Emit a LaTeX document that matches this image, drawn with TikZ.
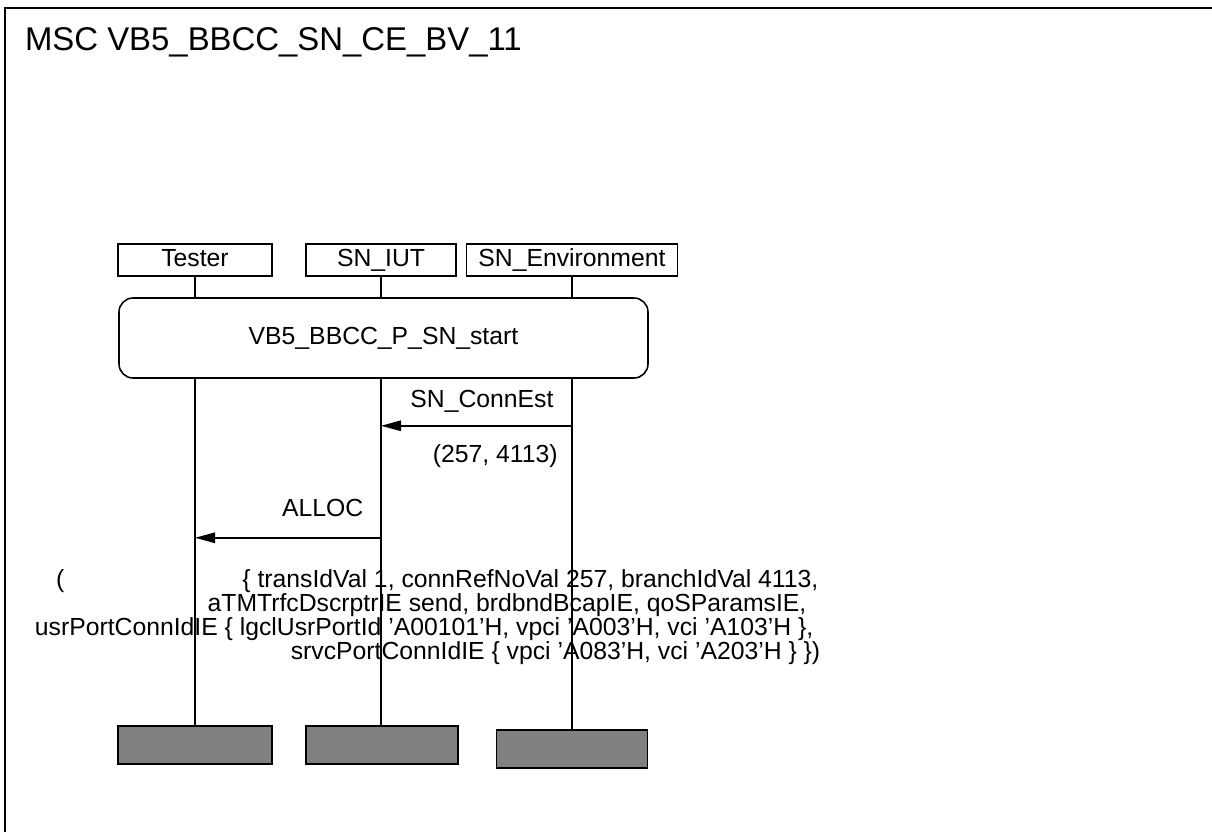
\documentclass[tikz,border=0pt]{standalone}
\usepackage{fontspec}
\setmainfont{Liberation Sans}
\usepackage{tikz}
\usetikzlibrary{arrows.meta,positioning,calc}
\tikzset{
  inst/.style={draw,line width=1.1pt,minimum height=8mm,inner sep=1pt,text height=0.95em,text depth=0pt,font=\fontsize{17.6}{17}\selectfont},
  iend/.style={draw,line width=1.1pt,fill=black!50,minimum height=9.5mm},
  refbox/.style={draw,line width=1.1pt,rounded corners=10pt,minimum width=132.25mm,minimum height=20mm,font=\fontsize{17.6}{17}\selectfont},
  life/.style={line width=1.1pt},
  msg/.style={line width=1.1pt,-{Triangle[length=5mm,width=2.6mm]}},
  lbl/.style={font=\fontsize{17.6}{17}\selectfont,inner sep=1pt}
}
\begin{document}
\begin{tikzpicture}
\useasboundingbox (0,0) rectangle (30.3,-20.8);
% frame and title
\draw[line width=1.1pt] (0.125,-20.8) -- (0.125,-0.2) -- (30.3,-0.2);
\node[anchor=base west,font=\fontsize{23.4}{25}\selectfont,inner sep=0pt] (title) at (0.62,-1.25) {MSC VB5\_BBCC\_SN\_CE\_BV\_11};
% instances
\foreach \i/\x/\w/\nm/\ey/\ex/\ew in {
{t}/{4.875}/{38.5mm}/{Tester}/{-18.625}/{4.875}/{38.5mm},
{s}/{9.525}/{37.5mm}/{SN\_IUT}/{-18.625}/{9.55}/{38mm},
{e}/{14.3}/{52.75mm}/{SN\_Environment}/{-18.725}/{14.3}/{37.75mm}}{
  \node[inst,minimum width=\w] (h\i) at (\x,-6.5) {\nm};
  \node[iend,minimum width=\ew] (z\i) at (\ex,\ey) {};
}
% reference
\node[refbox] (ref) at (9.5875,-8.45) {VB5\_BBCC\_P\_SN\_start};
\foreach \i in {t,s,e}{
  \draw[life] (h\i.south) -- (h\i.south |- ref.north);
  \draw[life] (h\i.south |- ref.south) -- (h\i.south |- z\i.north);
}
% messages
\coordinate (m1e) at ($(he.south |- ref.south)+(0,-1.175)$);
\coordinate (m1s) at (hs.south |- m1e);
\draw[msg] (m1e) -- (m1s);
\node[lbl,anchor=base east] (m1l) at ($(m1e)+(-0.42,0.45)$) {SN\_ConnEst};
\node[lbl,anchor=north east] (m1p) at ($(m1e)+(-0.32,-0.42)$) {(257, 4113)};
\coordinate (m2s) at ($(m1s)+(0,-2.8)$);
\coordinate (m2t) at (ht.south |- m2s);
\draw[msg] (m2s) -- (m2t);
\node[lbl,anchor=base east] (m2l) at ($(m2s)+(-0.4,0.52)$) {ALLOC};
\node[lbl,align=right,anchor=north east] (m2p) at (20.55,-14.2)
  {(\hspace{44.5mm}\{ transIdVal 1, connRefNoVal 257, branchIdVal 4113,\kern0.5mm\\
  aTMTrfcDscrptrIE send, brdbndBcapIE, qoSParamsIE,\kern3.5mm\\
  usrPortConnIdIE \{ lgclUsrPortId 'A00101'H, vpci 'A003'H, vci 'A103'H \},\kern1.75mm\\
  srvcPortConnIdIE \{ vpci 'A083'H, vci 'A203'H \} \})};
\end{tikzpicture}
\end{document}
